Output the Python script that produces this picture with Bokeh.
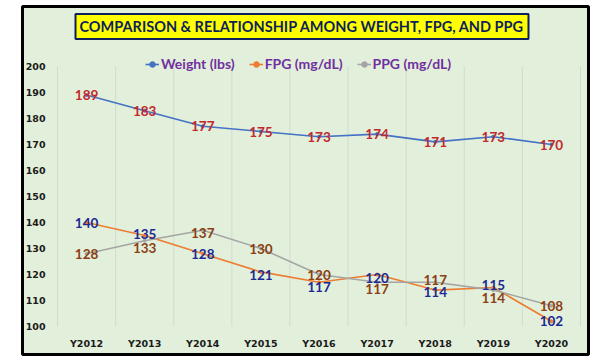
from bokeh.plotting import figure
from bokeh.models import ColumnDataSource, FixedTicker, Legend, LegendItem, Label
from bokeh.core.properties import value
from bokeh.embed import file_html
from bokeh.resources import INLINE

# ---- data ----
categories = ["Y2012", "Y2013", "Y2014", "Y2015", "Y2016", "Y2017", "Y2018", "Y2019", "Y2020"]
weight = [189, 183, 177, 175, 173, 174, 171, 173, 170]
fpg = [140, 135, 128, 121, 117, 120, 114, 115, 102]
ppg = [128, 133, 137, 130, 120, 117, 117, 114, 108]
y_ticks = [100, 110, 120, 130, 140, 150, 160, 170, 180, 190, 200]
title_text = "COMPARISON & RELATIONSHIP AMONG WEIGHT, FPG, AND PPG"
series_names = ["Weight (lbs)", "FPG (mg/dL)", "PPG (mg/dL)"]

# label nudges in screen px (positive = down)
fpg_dy = [0, -2, 0, 3, 5, 3, 2, -3, 0]
ppg_dy = [0, 7, 3, 0, 0, 7, -2, 8, 0]

# ---- geometry (canvas px; canvas sits at the page origin) ----
W, H = 600, 359
FR_L, FR_R, FR_T, FR_B = 22, 588, 6, 354       # framed green panel
PA_L, PA_R, PA_T, PA_B = 57, 580, 66, 326      # plotting area
n = len(categories)
ymin, ymax = y_ticks[0], y_ticks[-1]
ppx = (PA_R - PA_L) / n
ppy = (PA_B - PA_T) / (ymax - ymin)
x_start = -0.5 - (PA_L - FR_L) / ppx
x_end = n - 0.5 + (FR_R - PA_R) / ppx
y_start = ymin - (FR_B - PA_B) / ppy
y_end = ymax + (PA_T - FR_T) / ppy

xs = list(range(n))
src = ColumnDataSource(dict(
    x=xs, weight=weight, fpg=fpg, ppg=ppg,
    wl=[str(v) for v in weight], fl=[str(v) for v in fpg], pl=[str(v) for v in ppg],
    fdy=fpg_dy, pdy=ppg_dy,
))

GREEN = "#E2EFDA"
p = figure(width=W, height=H, x_range=(x_start, x_end), y_range=(y_start, y_end),
           output_backend="svg", toolbar_location=None,
           min_border_left=FR_L, min_border_right=W - FR_R,
           min_border_top=FR_T, min_border_bottom=H - FR_B,
           background_fill_color=GREEN, border_fill_color="white",
           outline_line_color="black", outline_line_width=3)

# axes drawn at the plotting-area edges
p.yaxis.fixed_location = -0.5
p.xaxis.fixed_location = ymin
p.yaxis.ticker = FixedTicker(ticks=y_ticks)
p.xaxis.ticker = FixedTicker(ticks=xs)
p.xaxis.major_label_overrides = {i: c for i, c in zip(xs, categories)}
for ax in (p.xaxis[0], p.yaxis[0]):
    ax.axis_line_color = None
    ax.major_tick_line_color = None
    ax.minor_tick_line_color = None
    ax.major_tick_out = 0
    ax.major_tick_in = 0
    ax.minor_tick_out = 0
    ax.major_label_text_font = "DejaVu Sans"
    ax.major_label_text_font_style = "bold"
    ax.major_label_text_font_size = "9.5px"
    ax.major_label_text_color = "#1a1a1a"
p.yaxis.major_label_standoff = 12
p.xaxis.major_label_standoff = 11

p.grid.grid_line_color = None
bounds = [i - 0.5 for i in range(n + 1)]
p.segment(x0=bounds, y0=[ymin] * len(bounds), x1=bounds, y1=[ymax] * len(bounds),
          line_color="#D3DACF", line_width=1)

# lines
colors = ["#4472C4", "#ED7D31", "#A5A5A5"]
renderers = []
for col, c in zip(["weight", "fpg", "ppg"], colors):
    ln = p.line("x", col, source=src, line_color=c, line_width=1.6)
    sc = p.scatter("x", col, source=src, marker="circle", size=3, line_color=c, fill_color=c)
    renderers.append([ln, sc])

# data labels
lab_font = value("Lato")
common = dict(source=src, text_align="center", text_baseline="middle",
              text_font=lab_font, text_font_style="bold", text_font_size="13.5px")
p.text("x", "weight", text="wl", text_color="#C3282E", **common)
p.text("x", "fpg", text="fl", y_offset="fdy", text_color="#1B2A94", **common)
p.text("x", "ppg", text="pl", y_offset="pdy", text_color="#8A3F14", **common)

# legend
legend = Legend(items=[LegendItem(label=nm, renderers=r) for nm, r in zip(series_names, renderers)],
                orientation="horizontal", location=(145 - FR_L, FR_B - 72),
                background_fill_alpha=0, border_line_color=None,
                label_text_font="Lato", label_text_font_style="bold", label_text_font_size="14px",
                label_text_color="#7030A0", glyph_width=14, glyph_height=14,
                label_standoff=2, spacing=14, padding=2, margin=0)
p.add_layout(legend)

# title box
title = Label(x=301.5 - FR_L, y=FR_B - 26, x_units="screen", y_units="screen", text=title_text,
              text_align="center", text_baseline="middle",
              text_font="Lato", text_font_style="bold", text_font_size="14.5px", text_color="#0D1F5C",
              background_fill_color="#FFFF00", border_line_color="#0D1F5C", border_line_width=2,
              padding=4)
p.add_layout(title)

open("out.html", "w").write(file_html(p, INLINE))
